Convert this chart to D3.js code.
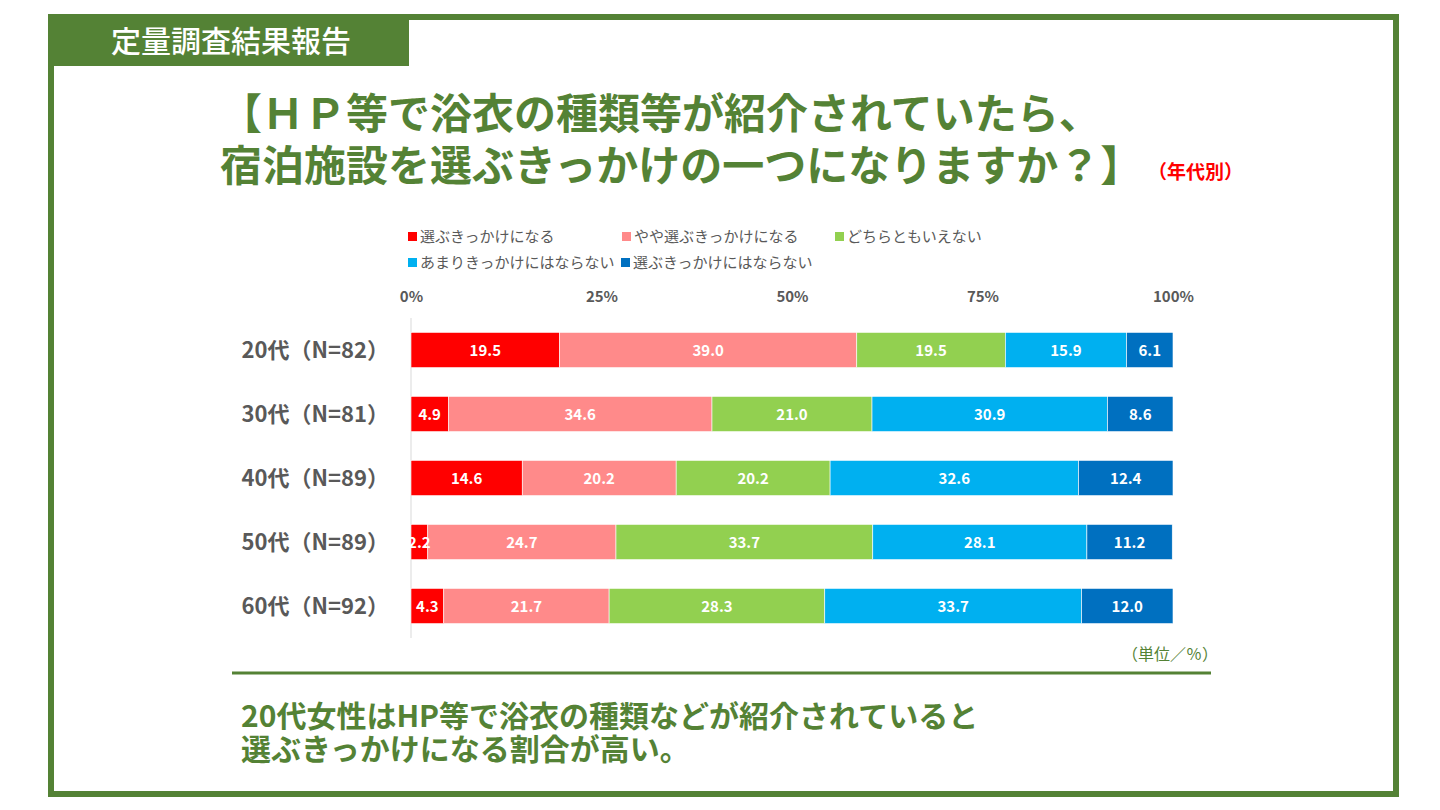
<!DOCTYPE html>
<html><head><meta charset="utf-8">
<script src="https://cdn.jsdelivr.net/npm/d3@7"></script>
<style>
html,body{margin:0;padding:0;background:#fff;}
svg{display:block;}
text{font-family:"Noto Sans CJK JP","Noto Sans",sans-serif;}
</style></head>
<body>
<svg id="c" width="1440" height="810"></svg>
<script>
const categories = ["20代（N=82）","30代（N=81）","40代（N=89）","50代（N=89）","60代（N=92）"];
const seriesNames = ["選ぶきっかけになる","やや選ぶきっかけになる","どちらともいえない","あまりきっかけにはならない","選ぶきっかけにはならない"];
const seriesColors = ["#FF0000","#FF8A8A","#92D050","#00B0F0","#0070C0"];
const s1 = [19.5, 4.9, 14.6, 2.2, 4.3];
const s2 = [39.0, 34.6, 20.2, 24.7, 21.7];
const s3 = [19.5, 21.0, 20.2, 33.7, 28.3];
const s4 = [15.9, 30.9, 32.6, 28.1, 33.7];
const s5 = [6.1, 8.6, 12.4, 11.2, 12.0];
const tickValues = [0,25,50,75,100];
const tickLabels = ["0%","25%","50%","75%","100%"];
const titleLines = ["【ＨＰ等で浴衣の種類等が紹介されていたら、","宿泊施設を選ぶきっかけの一つになりますか？】"];
const conclusionLines = ["20代女性はHP等で浴衣の種類などが紹介されていると","選ぶきっかけになる割合が高い。"];

const G = "#548235";
const gray = "#595959";
const svg = d3.select("#c");

// frame
svg.append("rect").attr("x",51).attr("y",17).attr("width",1345).attr("height",777)
  .attr("fill","none").attr("stroke",G).attr("stroke-width",6);
svg.append("rect").attr("x",48).attr("y",14).attr("width",361).attr("height",52).attr("fill",G);
svg.append("text").attr("x",231).attr("y",52).attr("text-anchor","middle")
  .attr("fill","#fff").attr("font-size",30).attr("font-weight",500).text("定量調査結果報告");

// title (one text, two lines)
const t = svg.append("text").attr("fill",G).attr("font-size",42).attr("font-weight",700);
t.append("tspan").attr("x",220).attr("y",129).text(titleLines[0]);
t.append("tspan").attr("x",220).attr("y",181).text(titleLines[1]);
svg.append("text").attr("x",1148).attr("y",179).attr("fill","#FF0000").attr("font-size",19).attr("font-weight",700)
  .text("（年代別）");

// legend
const legendPos = [[408,237],[622,237],[835,237],[408,263],[621,263]];
seriesNames.forEach((n,i)=>{
  const [lx,ly]=legendPos[i];
  svg.append("rect").attr("x",lx).attr("y",ly-5).attr("width",9).attr("height",9).attr("fill",seriesColors[i]);
  svg.append("text").attr("x",lx+12).attr("y",ly+5).attr("fill",gray).attr("font-size",15).text(n);
});

// scales
const x = d3.scaleLinear().domain([0,100]).range([411,1173]);
const y = d3.scaleBand().domain(categories).range([318,638]).paddingInner(0.45).paddingOuter(0.225);

// axis top
const ax = svg.append("g").attr("transform","translate(0,302)")
  .call(d3.axisTop(x).tickValues(tickValues).tickFormat((d,i)=>tickLabels[i]).tickSize(0).tickPadding(0));
ax.select(".domain").remove();
ax.selectAll("text").attr("fill",gray).attr("font-size",15).attr("font-weight",700)
  .attr("font-family","'Open Sans','Noto Sans',sans-serif");

// y axis line
svg.append("line").attr("x1",x(0)).attr("x2",x(0)).attr("y1",318).attr("y2",638)
  .attr("stroke","#D9D9D9").attr("stroke-width",1);

// category labels
categories.forEach(c=>{
  svg.append("text").attr("x",389).attr("y",y(c)+y.bandwidth()/2+8).attr("text-anchor","end")
    .attr("fill",gray).attr("font-size",22).attr("font-weight",700).text(c);
});

// stacked data
const series = [s1,s2,s3,s4,s5];
const rows = categories.map((c,i)=>{const o={cat:c}; seriesNames.forEach((n,j)=>o[n]=series[j][i]); return o;});
const stack = d3.stack().keys(seriesNames)(rows);
stack.forEach((layer,j)=>{
  const g = svg.append("g");
  g.selectAll("rect").data(layer).join("rect")
    .attr("x",d=>x(d[0])).attr("width",d=>x(d[1])-x(d[0]))
    .attr("y",d=>y(d.data.cat)).attr("height",y.bandwidth())
    .attr("fill",seriesColors[j]).attr("stroke","#fff").attr("stroke-width",0.6);
});
stack.forEach((layer,j)=>{
  svg.append("g").selectAll("text").data(layer).join("text")
    .attr("x",d=>(x(d[0])+x(d[1]))/2).attr("y",d=>y(d.data.cat)+y.bandwidth()/2+5.5)
    .attr("text-anchor","middle").attr("fill","#fff").attr("font-size",15).attr("font-weight",700)
    .attr("font-family","'Open Sans','Noto Sans',sans-serif")
    .text(d=>(d[1]-d[0]).toFixed(1));
});

// unit
svg.append("text").attr("x",1218).attr("y",660).attr("text-anchor","end").attr("fill",G)
  .attr("font-size",16).text("（単位／％）");
// separator
svg.append("line").attr("x1",232).attr("x2",1211).attr("y1",673).attr("y2",673).attr("stroke",G).attr("stroke-width",3);

// conclusion (one text, two lines)
const cText = svg.append("text").attr("fill",G).attr("font-size",30).attr("font-weight",700);
cText.append("tspan").attr("x",241).attr("y",727).text(conclusionLines[0]);
cText.append("tspan").attr("x",241).attr("y",760).text(conclusionLines[1]);
</script>
</body></html>
